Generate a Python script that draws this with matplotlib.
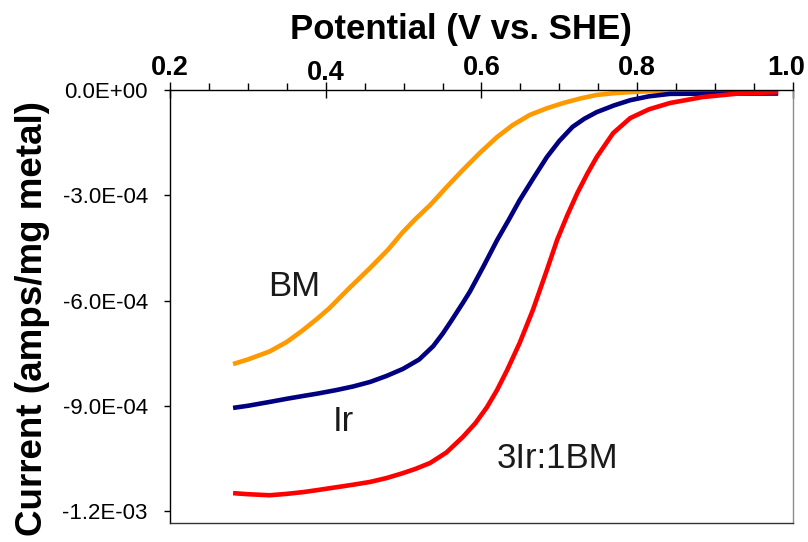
import matplotlib
matplotlib.use("Agg")
import matplotlib.pyplot as plt
from matplotlib.ticker import FixedLocator, MultipleLocator, FuncFormatter
from matplotlib.transforms import ScaledTranslation

plt.rcParams['font.family'] = ['Liberation Sans', 'DejaVu Sans']

# Polarization curves: potential (V vs. SHE) and current (units of 1e-4 A/mg metal)
bm_v = [0.281, 0.300, 0.328, 0.350, 0.371, 0.390, 0.405, 0.430, 0.457, 0.480, 0.499,
        0.515, 0.534, 0.555, 0.576, 0.598, 0.620, 0.640, 0.662, 0.684, 0.705, 0.727,
        0.748, 0.770, 0.791, 0.820, 0.850, 0.900, 0.950, 0.981]
bm_i = [-7.81, -7.68, -7.45, -7.18, -6.84, -6.50, -6.21, -5.65, -5.07, -4.55, -4.05,
        -3.68, -3.28, -2.77, -2.28, -1.79, -1.34, -1.00, -0.71, -0.52, -0.37, -0.24,
        -0.14, -0.09, -0.06, -0.03, -0.01, 0.0, 0.0, 0.0]

ir_v = [0.281, 0.300, 0.328, 0.350, 0.371, 0.390, 0.414, 0.435, 0.457, 0.478, 0.499,
        0.520, 0.538, 0.550, 0.560, 0.576, 0.585, 0.602, 0.620, 0.635, 0.649, 0.667,
        0.684, 0.700, 0.717, 0.732, 0.748, 0.770, 0.791, 0.815, 0.842, 0.900, 0.950,
        0.981]
ir_i = [-9.06, -9.00, -8.89, -8.80, -8.72, -8.65, -8.55, -8.45, -8.32, -8.15, -7.95,
        -7.68, -7.30, -6.95, -6.62, -6.07, -5.75, -5.05, -4.28, -3.70, -3.14, -2.50,
        -1.91, -1.45, -1.05, -0.82, -0.63, -0.44, -0.29, -0.18, -0.11, -0.10, -0.10,
        -0.10]

mix_v = [0.281, 0.300, 0.328, 0.350, 0.371, 0.390, 0.414, 0.435, 0.457, 0.478, 0.499,
         0.515, 0.534, 0.555, 0.576, 0.592, 0.607, 0.620, 0.633, 0.649, 0.666, 0.675,
         0.684, 0.697, 0.710, 0.723, 0.736, 0.748, 0.769, 0.791, 0.815, 0.842, 0.884,
         0.930, 0.981]
mix_i = [-11.49, -11.52, -11.55, -11.51, -11.46, -11.40, -11.32, -11.25, -11.17, -11.06, -10.92,
         -10.80, -10.63, -10.33, -9.89, -9.50, -9.04, -8.55, -7.98, -7.21, -6.27, -5.70,
         -5.13, -4.28, -3.58, -2.94, -2.38, -1.91, -1.23, -0.80, -0.55, -0.37, -0.20,
         -0.10, -0.06]

scale = 1e-4
y_ticks = [0.0, -3.0e-4, -6.0e-4, -9.0e-4, -1.2e-3]
x_ticks = [0.2, 0.4, 0.6, 0.8, 1.0]

fig = plt.figure(figsize=(8.08, 5.42), dpi=100)
ax = fig.add_axes([0.2104, 0.0351, 0.9814 - 0.2104, 0.8339 - 0.0351])

line_kw = dict(lw=3.3, solid_capstyle='butt', solid_joinstyle='round')
ax.plot(bm_v, [v * scale for v in bm_i], color='#FF9900', **line_kw)
ax.plot(ir_v, [v * scale for v in ir_i], color='#000080', **line_kw)
ax.plot(mix_v, [v * scale for v in mix_i], color='#FF0000', **line_kw)

ax.set_xlim(0.2, 1.0)
ax.set_ylim(-1.234e-3, 0.0)

# x axis on top
ax.xaxis.tick_top()
ax.xaxis.set_label_position('top')
ax.xaxis.set_major_locator(FixedLocator(x_ticks))
ax.xaxis.set_minor_locator(MultipleLocator(0.05))
ax.xaxis.set_major_formatter(FuncFormatter(lambda v, p: f"{v:.1f}"))
ax.tick_params(axis='x', which='major', direction='inout', length=11, width=1,
               labelsize=19.5, pad=1, top=True, bottom=False)
ax.tick_params(axis='x', which='minor', direction='out', length=5, width=1,
               top=True, bottom=False)
xlabels = ax.get_xticklabels()
for lab in xlabels:
    lab.set_fontweight('bold')
# the 0.4 label sits a little lower, the 1.0 label is pulled in from the edge
xlabels[1].set_transform(xlabels[1].get_transform()
                         + ScaledTranslation(0, -0.05, fig.dpi_scale_trans))
xlabels[4].set_transform(xlabels[4].get_transform()
                         + ScaledTranslation(-0.07, 0, fig.dpi_scale_trans))

ax.yaxis.set_major_locator(FixedLocator(y_ticks))
ax.yaxis.set_major_formatter(FuncFormatter(lambda v, p: f"{v:.1E}"))
ax.tick_params(axis='y', which='major', direction='out', length=4, width=1,
               labelsize=16, pad=12)

ax.spines['left'].set_color('black')
ax.spines['top'].set_color('black')
ax.spines['right'].set_color('#8c8c8c')
ax.spines['bottom'].set_color('#333333')
for s in ax.spines.values():
    s.set_linewidth(1.0)

fig.text(461 / 808, 1 - 30 / 542, 'Potential (V vs. SHE)', ha='center', va='center',
         fontsize=25, fontweight='bold')
fig.text(33 / 808, 1 - 319 / 542, 'Current (amps/mg metal)', ha='center', va='center',
         rotation=90, fontsize=26.5, fontweight='bold')

ax.text(0.359, -5.6e-4, 'BM', ha='center', va='center', fontsize=25, color='#1a1a1a')
ax.text(0.423, -9.46e-4, 'Ir', ha='center', va='center', fontsize=25, color='#1a1a1a')
ax.text(0.697, -10.5e-4, '3Ir:1BM', ha='center', va='center', fontsize=25, color='#1a1a1a')

fig.savefig('out.png', dpi=100)
